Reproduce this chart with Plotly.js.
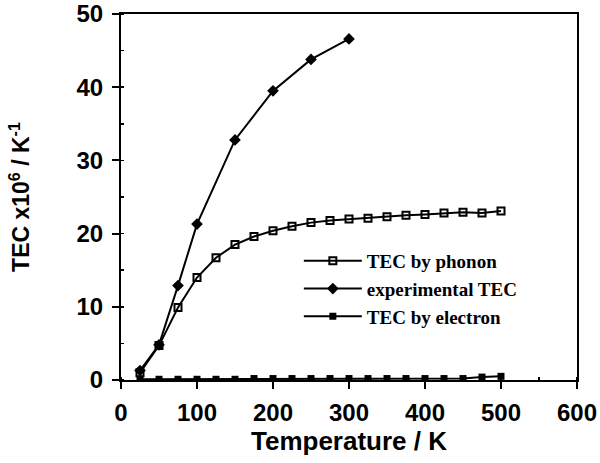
<!DOCTYPE html>
<html>
<head>
<meta charset="utf-8">
<script src="https://cdn.plot.ly/plotly-3.0.1.min.js"></script>
<style>html,body{margin:0;padding:0;background:#fff;}#chart{width:600px;height:463px;}</style>
</head>
<body>
<div id="chart"></div>
<script>
var tempPhonon = [25,50,75,100,125,150,175,200,225,250,275,300,325,350,375,400,425,450,475,500];
var tecPhonon = [1.0,4.7,9.9,14.0,16.7,18.5,19.6,20.4,21.0,21.5,21.8,22.0,22.1,22.3,22.5,22.6,22.8,22.9,22.8,23.1];
var tempExp = [25,50,75,100,150,200,250,300];
var tecExp = [1.3,4.8,12.9,21.3,32.8,39.5,43.8,46.6];
var tempElectron = [25,50,75,100,125,150,175,200,225,250,275,300,325,350,375,400,425,450,475,500];
var tecElectron = [0.1,0.1,0.1,0.1,0.1,0.1,0.2,0.2,0.2,0.2,0.2,0.2,0.2,0.2,0.2,0.2,0.2,0.2,0.4,0.5];
var seriesNames = ["TEC by phonon", "experimental TEC", "TEC by electron"];
var xTitle = "Temperature / K";
var yTitle = "TEC x10<sup>6</sup> / K<sup>-1</sup>";

var traces = [
  {x: tempPhonon, y: tecPhonon, name: seriesNames[0], legendgroup: "a", mode: "lines+markers",
   line: {color: "#000", width: 2},
   marker: {symbol: "square-open", size: 7, color: "#000", line: {width: 2, color: "#000"}}},
  {x: tempExp, y: tecExp, name: seriesNames[1], legendgroup: "b", mode: "lines+markers",
   line: {color: "#000", width: 2},
   marker: {symbol: "diamond", size: 9, color: "#000"}},
  {x: tempElectron, y: tecElectron, name: seriesNames[2], legendgroup: "c", mode: "lines+markers",
   line: {color: "#000", width: 2},
   marker: {symbol: "square", size: 7, color: "#000"}}
];

var tickFont = {family: "Liberation Sans, Arial, sans-serif", size: 24, color: "#000", weight: "bold"};

var layout = {
  width: 600, height: 463,
  margin: {l: 121, r: 23, t: 14, b: 83},
  paper_bgcolor: "#fff", plot_bgcolor: "#fff",
  showlegend: true,
  legend: {x: 0.39, y: 0.377, xanchor: "left", yanchor: "top", bgcolor: "rgba(0,0,0,0)",
           font: {family: "Liberation Serif, Times New Roman, serif", size: 19, color: "#000", weight: "bold"},
           tracegroupgap: 0, itemwidth: 58},
  xaxis: {range: [0, 600], dtick: 100, tick0: 0, showgrid: false, zeroline: false,
          showline: true, linecolor: "#000", linewidth: 2, mirror: true,
          ticks: "outside", ticklen: 7, tickwidth: 2, tickcolor: "#000",
          minor: {ticks: "inside", dtick: 50, ticklen: 3, tickwidth: 1.5, tickcolor: "#000"},
          tickfont: tickFont, ticklabelstandoff: 3,
          title: {text: "<b>" + xTitle + "</b>", font: {family: "Liberation Sans, Arial, sans-serif", size: 26, color: "#000"}, standoff: 6}},
  yaxis: {range: [0, 50], dtick: 10, tick0: 0, showgrid: false, zeroline: false,
          showline: true, linecolor: "#000", linewidth: 2, mirror: true,
          ticks: "outside", ticklen: 7, tickwidth: 2, tickcolor: "#000",
          minor: {ticks: "inside", dtick: 5, ticklen: 3, tickwidth: 1.5, tickcolor: "#000"},
          tickfont: tickFont, ticklabelstandoff: 4,
          title: {text: "<b>" + yTitle + "</b>", font: {family: "Liberation Sans, Arial, sans-serif", size: 23, color: "#000"}, standoff: 40}}
};

Plotly.newPlot("chart", traces, layout, {displayModeBar: false, staticPlot: true});
</script>
</body>
</html>
